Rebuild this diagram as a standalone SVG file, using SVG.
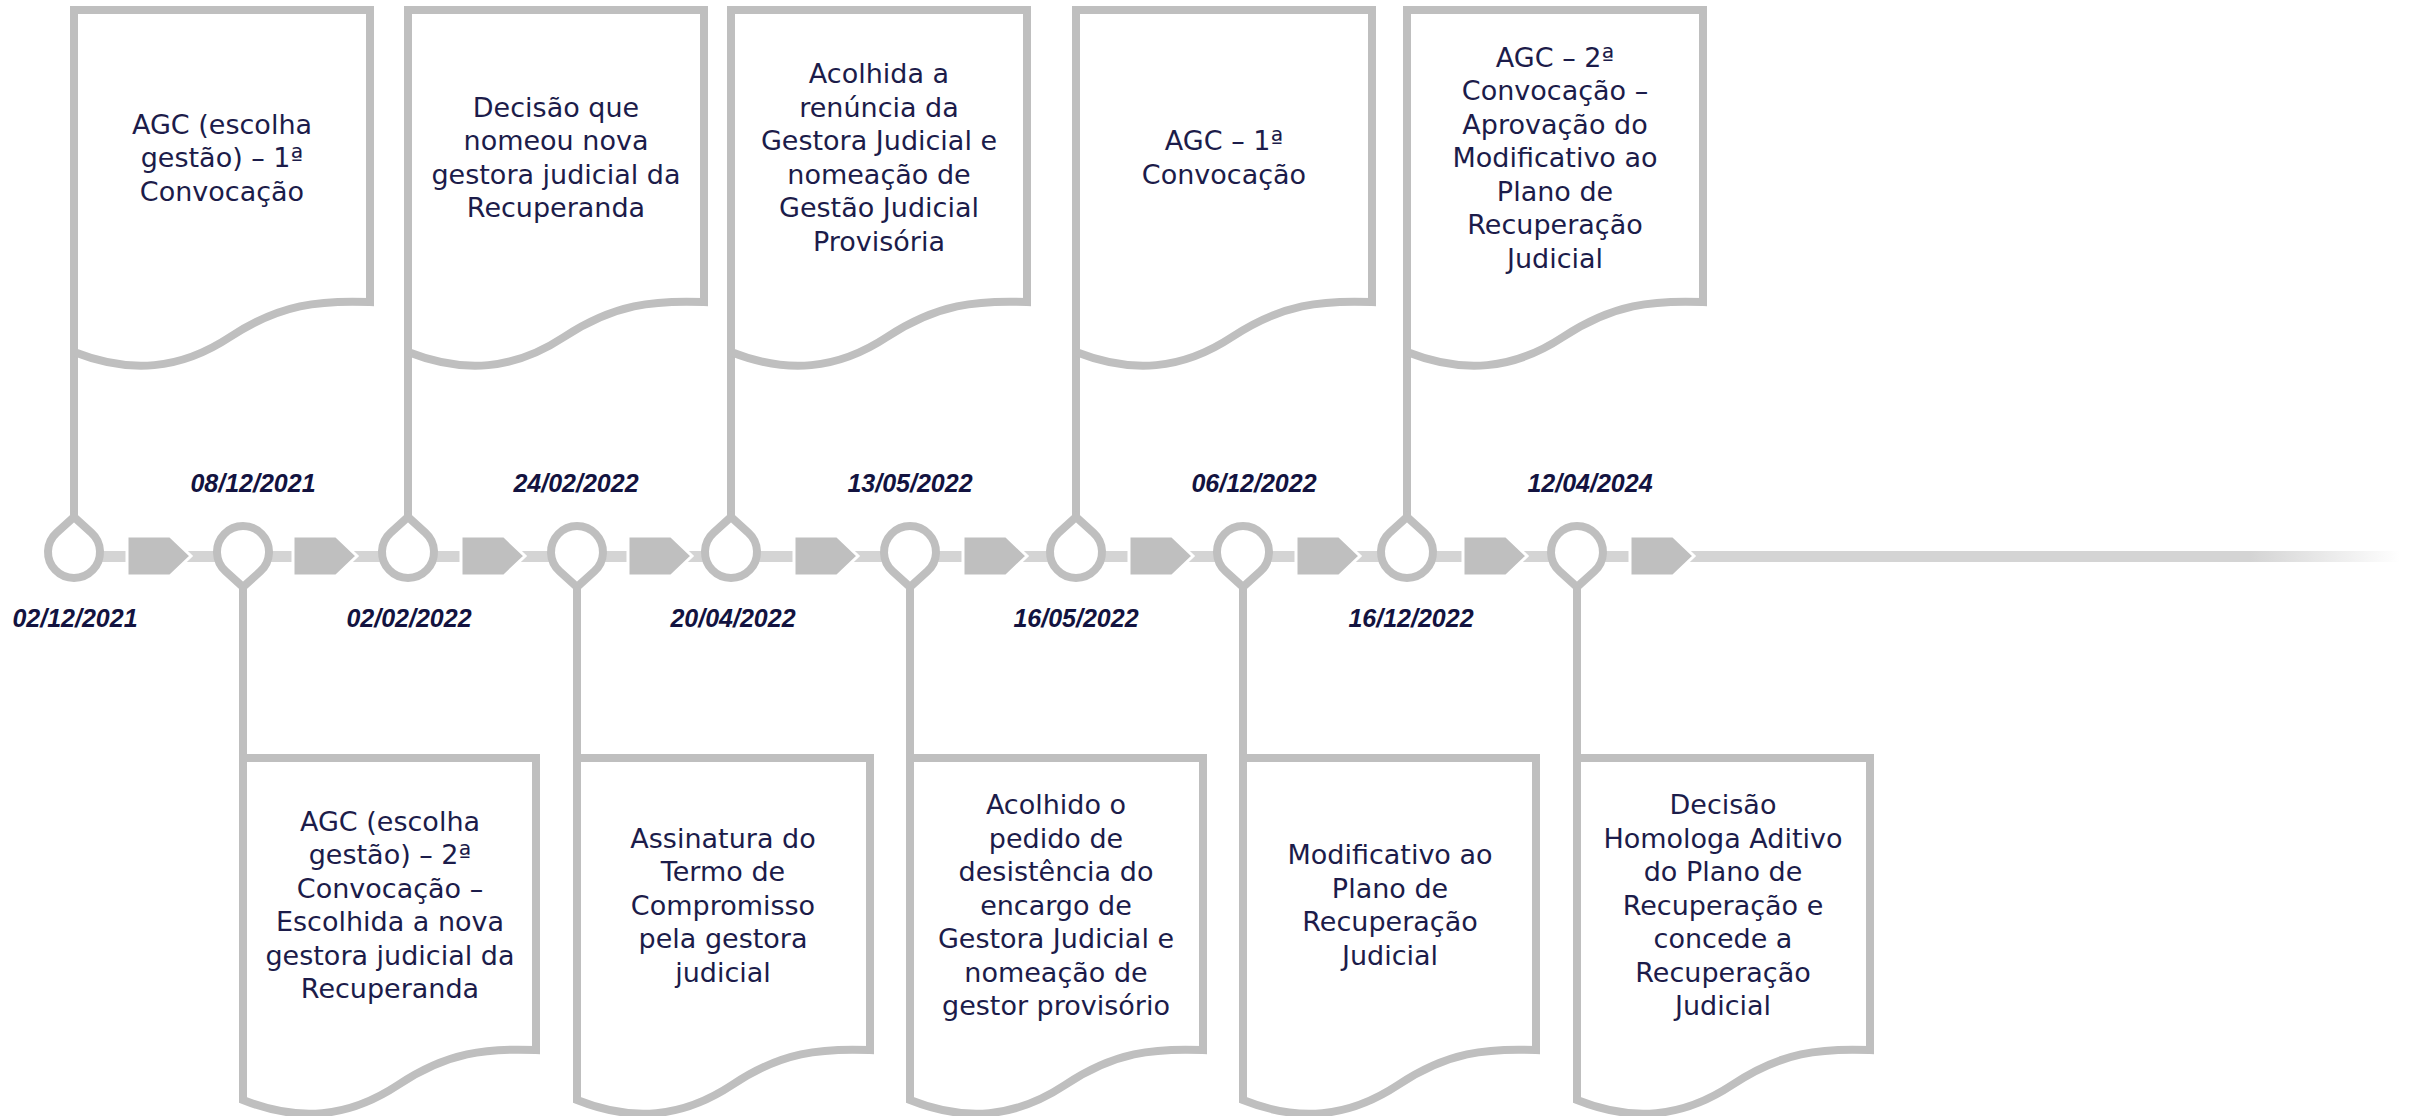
<svg xmlns="http://www.w3.org/2000/svg" xmlns:xlink="http://www.w3.org/1999/xlink" width="2412" height="1116" viewBox="0 0 2412 1116">
<style>
.doc{fill:#ffffff;stroke:#bfbfbf;stroke-width:8;stroke-linejoin:miter}
.drop{fill:#ffffff;stroke:#bfbfbf;stroke-width:8;stroke-linejoin:miter}
.stem{stroke:#bfbfbf;stroke-width:8}
.arr{fill:#bfbfbf;stroke:#ffffff;stroke-width:3}
.t{font-family:"DejaVu Sans","Liberation Sans",sans-serif;font-size:27px;fill:#1c1c4a;text-anchor:middle}
.d{font-family:"Liberation Sans",Arial,sans-serif;font-size:25px;font-weight:bold;font-style:italic;fill:#131340;text-anchor:middle}
</style>
<defs>
<linearGradient id="fade" gradientUnits="userSpaceOnUse" x1="2250" y1="0" x2="2400" y2="0">
<stop offset="0" stop-color="#d4d4d4"/>
<stop offset="1" stop-color="#ffffff"/>
</linearGradient>
<path id="docTop" d="M0,342 L0,0 L296,0 L296,292 C246,290 206,294 156,327 C106,360 56,364 0,342 Z"/>
<path id="docBot" d="M0,342 L0,0 L293,0 L293,292 C244,290 204,294 155,327 C105,360 55,364 0,342 Z"/>
<path id="dropUp" d="M-17.4,-19.3 L0,-35 L17.4,-19.3 A26,26 0 1,1 -17.4,-19.3 Z"/>
<path id="dropDown" d="M-17.4,19.3 L0,35 L17.4,19.3 A26,26 0 1,0 -17.4,19.3 Z"/>
<path id="arrow" d="M0,536 L43,536 L64,556 L43,576 L0,576 Z"/>
</defs>
<rect width="2412" height="1116" fill="#ffffff"/>

<g id="connectors">
<rect x="74" y="551" width="2326" height="11" fill="url(#fade)"/>
<use xlink:href="#arrow" class="arr" x="127"/>
<use xlink:href="#arrow" class="arr" x="293"/>
<use xlink:href="#arrow" class="arr" x="461"/>
<use xlink:href="#arrow" class="arr" x="628"/>
<use xlink:href="#arrow" class="arr" x="794"/>
<use xlink:href="#arrow" class="arr" x="963"/>
<use xlink:href="#arrow" class="arr" x="1129"/>
<use xlink:href="#arrow" class="arr" x="1296"/>
<use xlink:href="#arrow" class="arr" x="1463"/>
<use xlink:href="#arrow" class="arr" x="1630"/>
<line class="stem" x1="74" y1="330" x2="74" y2="519"/>
<line class="stem" x1="243" y1="585" x2="243" y2="770"/>
<line class="stem" x1="408" y1="330" x2="408" y2="519"/>
<line class="stem" x1="577" y1="585" x2="577" y2="770"/>
<line class="stem" x1="731" y1="330" x2="731" y2="519"/>
<line class="stem" x1="910" y1="585" x2="910" y2="770"/>
<line class="stem" x1="1076" y1="330" x2="1076" y2="519"/>
<line class="stem" x1="1243" y1="585" x2="1243" y2="770"/>
<line class="stem" x1="1407" y1="330" x2="1407" y2="519"/>
<line class="stem" x1="1577" y1="585" x2="1577" y2="770"/>
</g>

<g id="node1">
<use xlink:href="#docTop" class="doc" x="74" y="10"/>
<use xlink:href="#dropUp" class="drop" x="74" y="552"/>
<text class="t" y="133.5"><tspan x="222">AGC (escolha</tspan><tspan x="222" dy="33.5">gestão) – 1ª</tspan><tspan x="222" dy="33.5">Convocação</tspan></text>
<text class="d" x="75" y="627">02/12/2021</text>
</g>

<g id="node2">
<use xlink:href="#docBot" class="doc" x="243" y="758"/>
<use xlink:href="#dropDown" class="drop" x="243" y="552"/>
<text class="t" y="830.75"><tspan x="390">AGC (escolha</tspan><tspan x="390" dy="33.5">gestão) – 2ª</tspan><tspan x="390" dy="33.5">Convocação –</tspan><tspan x="390" dy="33.5">Escolhida a nova</tspan><tspan x="390" dy="33.5">gestora judicial da</tspan><tspan x="390" dy="33.5">Recuperanda</tspan></text>
<text class="d" x="253" y="492">08/12/2021</text>
</g>

<g id="node3">
<use xlink:href="#docTop" class="doc" x="408" y="10"/>
<use xlink:href="#dropUp" class="drop" x="408" y="552"/>
<text class="t" y="116.75"><tspan x="556">Decisão que</tspan><tspan x="556" dy="33.5">nomeou nova</tspan><tspan x="556" dy="33.5">gestora judicial da</tspan><tspan x="556" dy="33.5">Recuperanda</tspan></text>
<text class="d" x="409" y="627">02/02/2022</text>
</g>

<g id="node4">
<use xlink:href="#docBot" class="doc" x="577" y="758"/>
<use xlink:href="#dropDown" class="drop" x="577" y="552"/>
<text class="t" y="847.5"><tspan x="723">Assinatura do</tspan><tspan x="723" dy="33.5">Termo de</tspan><tspan x="723" dy="33.5">Compromisso</tspan><tspan x="723" dy="33.5">pela gestora</tspan><tspan x="723" dy="33.5">judicial</tspan></text>
<text class="d" x="576" y="492">24/02/2022</text>
</g>

<g id="node5">
<use xlink:href="#docTop" class="doc" x="731" y="10"/>
<use xlink:href="#dropUp" class="drop" x="731" y="552"/>
<text class="t" y="83.25"><tspan x="879">Acolhida a</tspan><tspan x="879" dy="33.5">renúncia da</tspan><tspan x="879" dy="33.5">Gestora Judicial e</tspan><tspan x="879" dy="33.5">nomeação de</tspan><tspan x="879" dy="33.5">Gestão Judicial</tspan><tspan x="879" dy="33.5">Provisória</tspan></text>
<text class="d" x="733" y="627">20/04/2022</text>
</g>

<g id="node6">
<use xlink:href="#docBot" class="doc" x="910" y="758"/>
<use xlink:href="#dropDown" class="drop" x="910" y="552"/>
<text class="t" y="814"><tspan x="1056">Acolhido o</tspan><tspan x="1056" dy="33.5">pedido de</tspan><tspan x="1056" dy="33.5">desistência do</tspan><tspan x="1056" dy="33.5">encargo de</tspan><tspan x="1056" dy="33.5">Gestora Judicial e</tspan><tspan x="1056" dy="33.5">nomeação de</tspan><tspan x="1056" dy="33.5">gestor provisório</tspan></text>
<text class="d" x="910" y="492">13/05/2022</text>
</g>

<g id="node7">
<use xlink:href="#docTop" class="doc" x="1076" y="10"/>
<use xlink:href="#dropUp" class="drop" x="1076" y="552"/>
<text class="t" y="150.25"><tspan x="1224">AGC – 1ª</tspan><tspan x="1224" dy="33.5">Convocação</tspan></text>
<text class="d" x="1076" y="627">16/05/2022</text>
</g>

<g id="node8">
<use xlink:href="#docBot" class="doc" x="1243" y="758"/>
<use xlink:href="#dropDown" class="drop" x="1243" y="552"/>
<text class="t" y="864.25"><tspan x="1390">Modificativo ao</tspan><tspan x="1390" dy="33.5">Plano de</tspan><tspan x="1390" dy="33.5">Recuperação</tspan><tspan x="1390" dy="33.5">Judicial</tspan></text>
<text class="d" x="1254" y="492">06/12/2022</text>
</g>

<g id="node9">
<use xlink:href="#docTop" class="doc" x="1407" y="10"/>
<use xlink:href="#dropUp" class="drop" x="1407" y="552"/>
<text class="t" y="66.5"><tspan x="1555">AGC – 2ª</tspan><tspan x="1555" dy="33.5">Convocação –</tspan><tspan x="1555" dy="33.5">Aprovação do</tspan><tspan x="1555" dy="33.5">Modificativo ao</tspan><tspan x="1555" dy="33.5">Plano de</tspan><tspan x="1555" dy="33.5">Recuperação</tspan><tspan x="1555" dy="33.5">Judicial</tspan></text>
<text class="d" x="1411" y="627">16/12/2022</text>
</g>

<g id="node10">
<use xlink:href="#docBot" class="doc" x="1577" y="758"/>
<use xlink:href="#dropDown" class="drop" x="1577" y="552"/>
<text class="t" y="814"><tspan x="1723">Decisão</tspan><tspan x="1723" dy="33.5">Homologa Aditivo</tspan><tspan x="1723" dy="33.5">do Plano de</tspan><tspan x="1723" dy="33.5">Recuperação e</tspan><tspan x="1723" dy="33.5">concede a</tspan><tspan x="1723" dy="33.5">Recuperação</tspan><tspan x="1723" dy="33.5">Judicial</tspan></text>
<text class="d" x="1590" y="492">12/04/2024</text>
</g>
</svg>
